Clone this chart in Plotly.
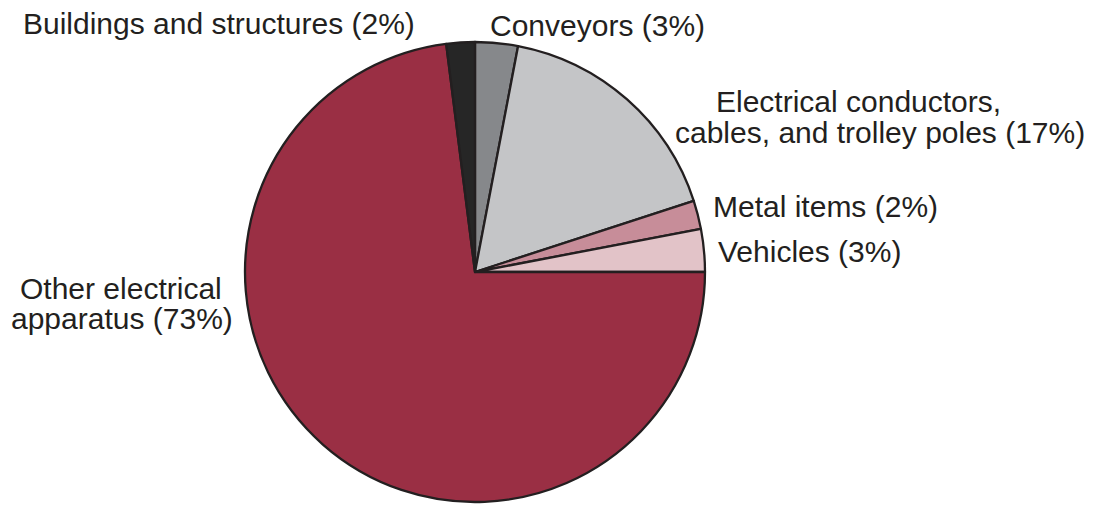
import plotly.graph_objects as go

# Data
categories = ["Conveyors", "Electrical conductors, cables, and trolley poles", "Metal items",
              "Vehicles", "Other electrical apparatus", "Buildings and structures"]
values = [3, 17, 2, 3, 73, 2]
label_lines = [["Conveyors (3%)"],
               ["Electrical conductors,", "cables, and trolley poles (17%)"],
               ["Metal items (2%)"],
               ["Vehicles (3%)"],
               ["Other electrical", "apparatus (73%)"],
               ["Buildings and structures (2%)"]]

colors = ["#86888b", "#c4c5c7", "#c78d99", "#e2c3c8", "#9a2f44", "#262626"]

W, H = 1100, 508
cx, cy, r = 475, 272, 230

# label line positions (pixels: center x, center y of each line)
label_pos = [[(598, 25)],
             [(858, 102), (880, 132)],
             [(825, 207)],
             [(809, 251)],
             [(121, 288), (122, 318)],
             [(219, 23)]]

fig = go.Figure(go.Pie(
    labels=categories, values=values, sort=False, direction="clockwise", rotation=0,
    marker=dict(colors=colors, line=dict(color="#231f20", width=2.3)),
    textinfo="none", hoverinfo="label+percent", showlegend=False,
    domain=dict(x=[(cx - r) / W, (cx + r) / W], y=[1 - (cy + r) / H, 1 - (cy - r) / H]),
))

for lines, poss in zip(label_lines, label_pos):
    for txt, (px, py) in zip(lines, poss):
        fig.add_annotation(text=txt, x=px / W, y=1 - py / H, xref="paper", yref="paper",
                           xanchor="center", yanchor="middle", showarrow=False, align="center",
                           font=dict(family="Liberation Sans, Arial, sans-serif", size=30, color="#231f20"))

fig.update_layout(width=W, height=H, margin=dict(l=0, r=0, t=0, b=0),
                  paper_bgcolor="white", plot_bgcolor="white")
fig.write_html("out.html", config={"displayModeBar": False},
               post_script="document.body.style.margin='0';")
